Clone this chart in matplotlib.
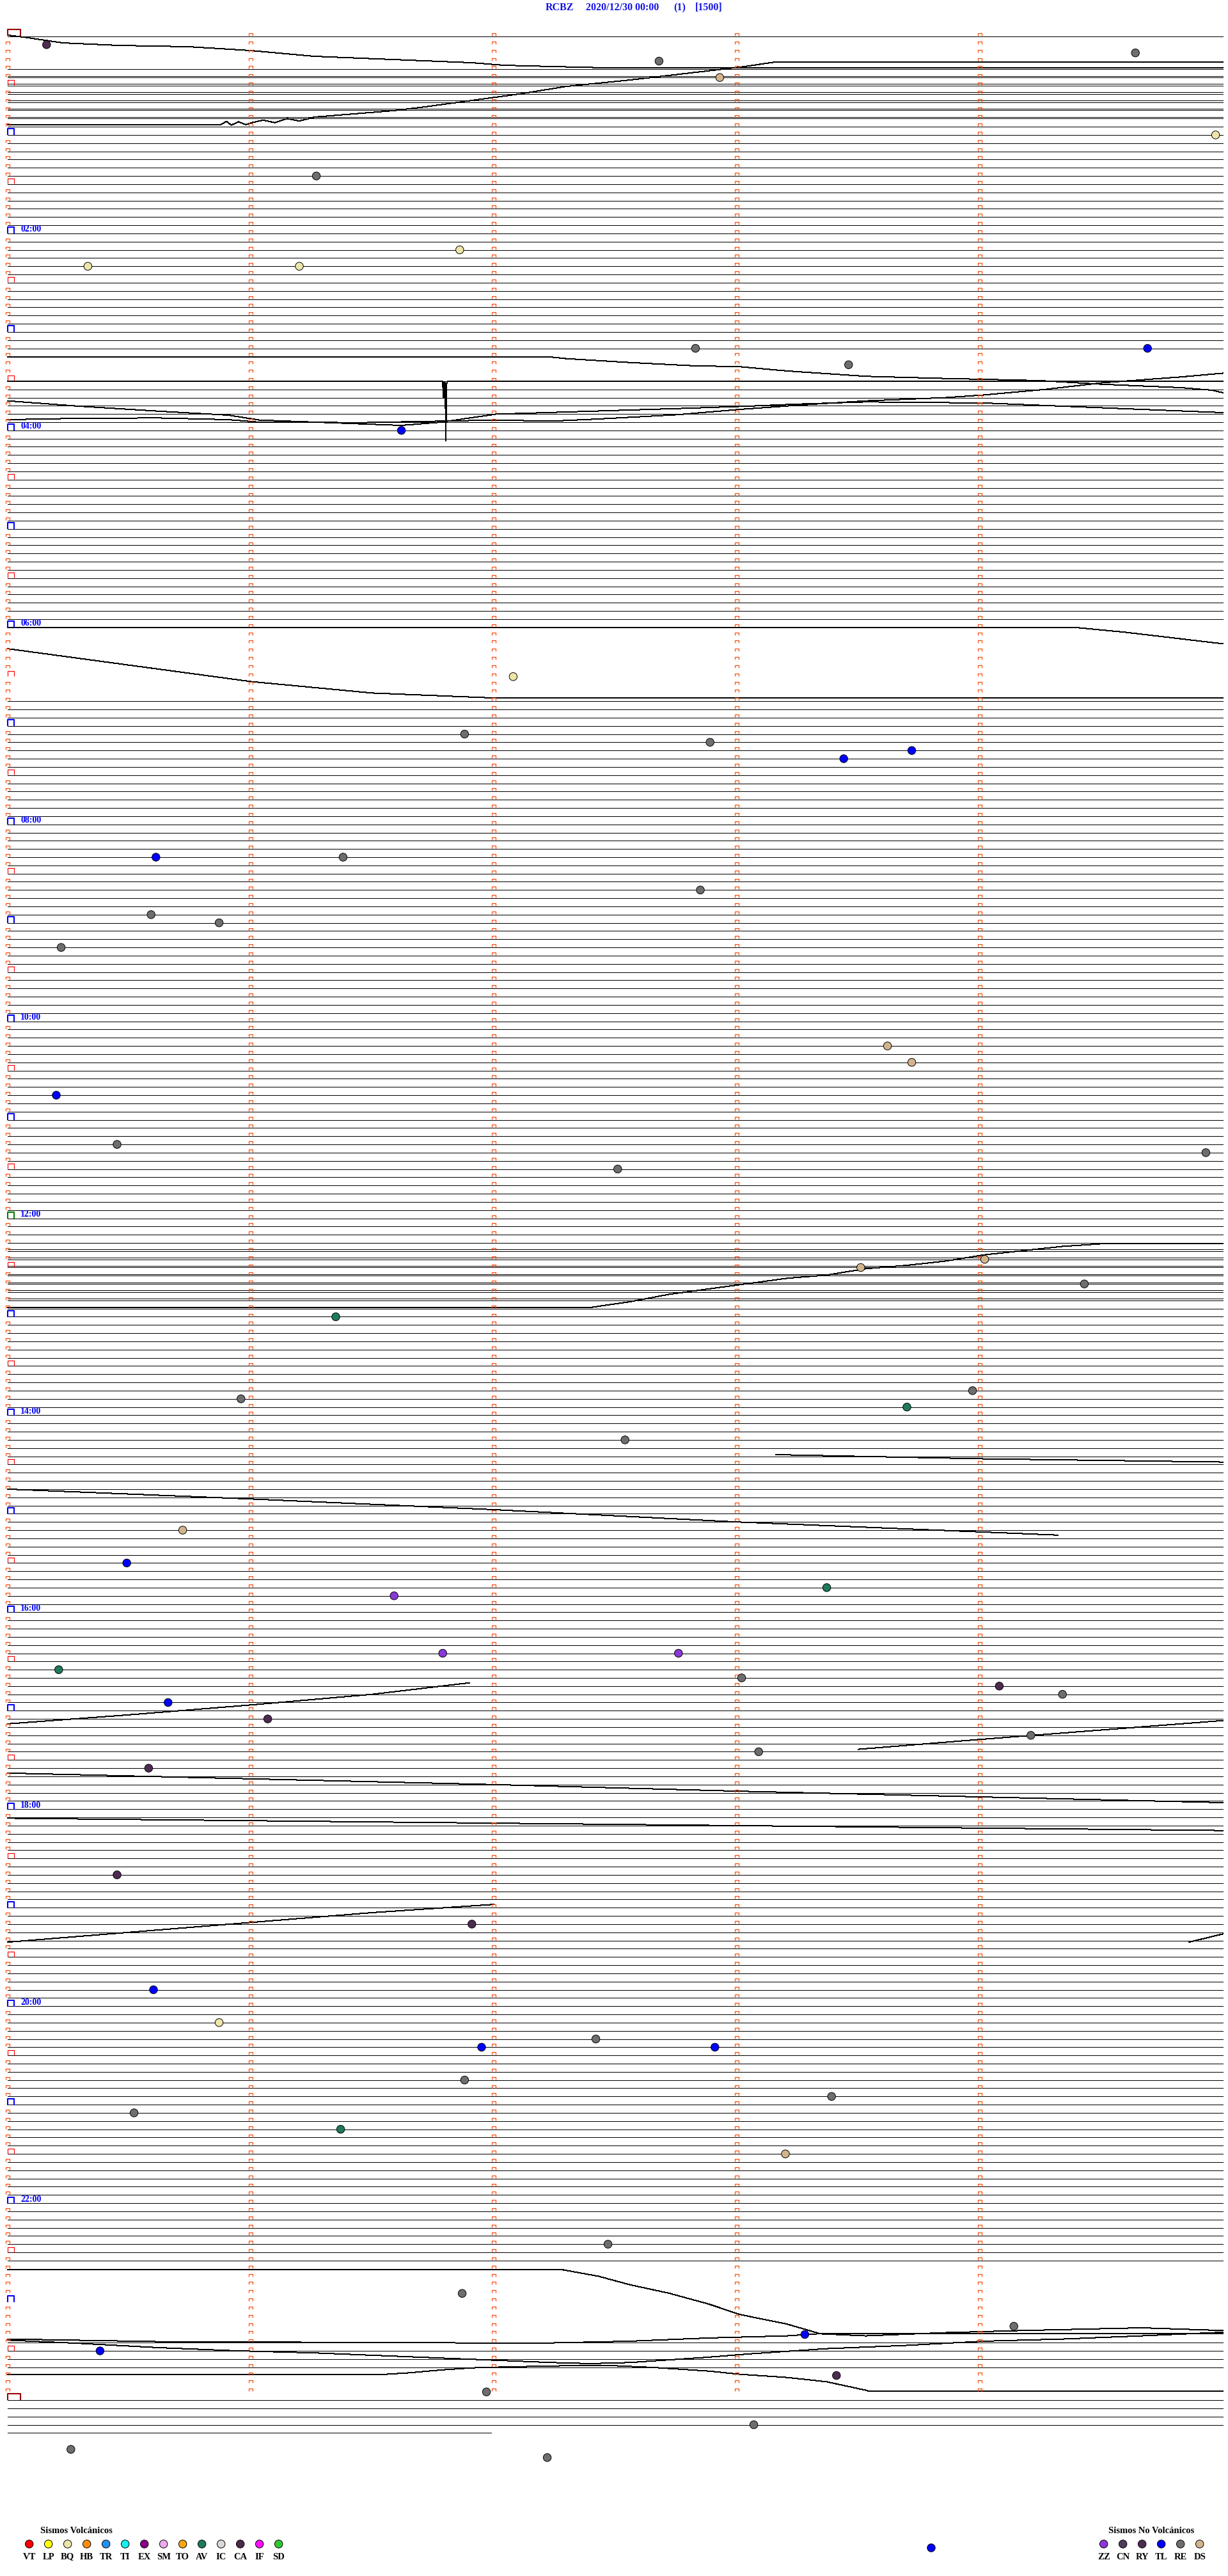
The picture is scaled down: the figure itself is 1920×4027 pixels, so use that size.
import matplotlib
matplotlib.use("Agg")
import matplotlib.pyplot as plt
from matplotlib.path import Path
import numpy as np

# ---------------- data ----------------
station = "RCBZ"
date_label = "2020/12/30 00:00"
channel_label = "(1)"
scale_label = "[1500]"

minutes_per_row = 5
n_marked_rows = 288          # 24 h of 5-minute rows
n_trace_rows = 293           # rows with data (last one partial)
last_row_end_min = 1.99      # end of data in the last row (minutes)

hour_labels = ["02:00", "04:00", "06:00", "08:00", "10:00", "12:00",
               "14:00", "16:00", "18:00", "20:00", "22:00"]

# rows whose own baseline trace is not drawn flat (drifted away)
missing_rows = [1, 2, 3, 39, 40, 41, 72, 73, 74, 75, 76, 77, 78, 79, 80,
                272, 273, 274, 275, 276, 277, 278, 279, 280, 285, 286, 287]
# rows that show a doubled trace (second copy slightly above)
double_rows = [5, 6, 7, 8, 9, 10, 148, 149, 150, 151, 152, 153, 154]
double_offset = -0.2

# drifting traces: (minutes within row, position in row units)
drift_minutes = [
    [0, 0.066, 0.226, 0.455, 0.745, 0.997, 1.263, 1.587, 1.911, 2.042, 2.237, 2.463, 5.0],
    [0, 0.876, 0.9, 0.92, 0.95, 0.98, 1.005, 1.05, 1.1, 1.15, 1.2, 1.263, 1.587, 1.718, 1.911, 2.105, 2.3, 2.561, 2.787, 3.013, 3.158, 5.0],
    [0, 2.237, 2.3, 2.561, 2.818, 3.013, 3.208, 3.532, 3.855, 4.245, 4.503, 4.826, 4.955, 5.0],
    [0, 0.292, 0.616, 0.908, 1.037, 1.458, 1.62, 1.782, 2.009, 2.786, 3.045, 3.256, 3.531, 4.017, 4.341, 4.665, 5.0],
    [0, 0.292, 0.616, 0.908, 1.037, 1.458, 1.782, 2.009, 2.236, 2.43, 2.754, 3.013, 3.256, 3.531, 3.855, 4.017, 4.276, 4.503, 4.826, 5.0],
    [0, 1.79, 1.792, 1.795, 1.797, 1.80, 1.803, 1.806, 1.81, 5.0],
    [0, 4.39, 4.6, 4.8, 5.0],
    [0, 0.5, 1.0, 1.5, 2.0, 5.0],
    [0, 2.397, 2.56, 2.722, 2.883, 3.013, 3.207, 3.369, 3.531, 3.693, 3.855, 4.017, 4.179, 4.341, 4.503, 5.0],
    [3.16, 4.0, 5.0],
    [0, 1.0, 2.0, 3.0, 4.32],
    [0, 0.5, 1.0, 1.5, 1.9],
    [3.5, 4.0, 5.0],
    [0, 1.0, 2.0, 3.0, 4.0, 5.0],
    [0, 1.0, 2.0, 3.0, 4.0, 5.0],
    [0, 0.5, 1.0, 1.5, 2.0],
    [4.86, 5.0],
    [0, 2.284, 2.43, 2.56, 2.722, 2.883, 3.013, 3.207, 3.337, 5.0],
    [0, 1.546, 1.653, 1.782, 1.912, 2.074, 2.3, 2.495, 2.657, 2.883, 3.013, 3.207, 3.369, 3.531, 3.547, 5.0],
    [0, 0.616, 1.264, 1.912, 2.236, 2.56, 2.883, 3.207, 3.337, 3.531, 3.855, 4.179, 4.665, 5.0],
    [0, 0.292, 0.616, 0.94, 1.264, 1.588, 1.912, 2.236, 2.398, 2.56, 2.883, 3.045, 3.369, 3.693, 4.017, 4.341, 4.665, 5.0],
]
drift_rows = [
    [-0.16, 0.08, 0.78, 1.09, 1.25, 1.71, 2.42, 2.81, 3.2, 3.51, 3.66, 3.82, 3.82],
    [10.76, 10.76, 10.35, 10.8, 10.4, 10.75, 10.5, 10.2, 10.5, 10.0, 10.3, 9.82, 9.04, 8.57, 7.79, 7.01, 6.08, 5.3, 4.52, 3.74, 3.12, 3.12],
    [39.07, 39.07, 39.26, 39.73, 40.12, 40.24, 40.76, 41.41, 41.67, 41.93, 42.38, 42.79, 43.1, 43.41],
    [44.40, 45.05, 45.65, 46.14, 46.74, 47.21, 47.39, 47.0, 46.02, 45.31, 45.05, 44.79, 44.53, 44.66, 45.05, 45.44, 45.83],
    [46.69, 46.53, 46.48, 46.69, 47.0, 47.05, 46.87, 46.74, 46.87, 46.61, 46.09, 45.44, 44.92, 44.4, 44.01, 43.68, 42.98, 42.2, 41.49, 41.03],
    [42.0, 42.0, 44.0, 42.1, 44.0, 42.2, 49.3, 42.3, 42.0, 42.0],
    [72.0, 72.0, 72.6, 73.3, 74.0],
    [74.6, 76.6, 78.6, 80.0, 80.6, 80.6],
    [154.87, 154.87, 154.17, 153.26, 152.61, 152.09, 151.31, 150.92, 150.14, 149.75, 149.23, 148.46, 147.94, 147.42, 147.1, 147.1],
    [172.8, 173.3, 173.7],
    [177.0, 178.2, 179.5, 181.0, 182.6],
    [205.6, 204.5, 203.3, 202.0, 200.6],
    [208.7, 207.5, 205.2],
    [211.6, 212.3, 213.0, 213.8, 214.5, 215.2],
    [217.1, 217.4, 217.7, 218.0, 218.3, 218.6],
    [232.2, 231.0, 229.8, 228.6, 227.6],
    [232.2, 231.2],
    [272.12, 272.12, 272.9, 273.94, 274.98, 276.28, 277.57, 278.74, 279.86, 279.86],
    [284.87, 284.87, 284.67, 284.33, 284.07, 283.94, 283.81, 283.81, 284.02, 284.46, 284.85, 285.24, 285.76, 286.8, 286.93, 286.93],
    [280.56, 280.87, 280.95, 281.03, 281.03, 280.82, 280.43, 280.17, 279.91, 280.17, 279.78, 279.52, 279.19, 279.52],
    [280.69, 281.08, 281.6, 281.99, 282.25, 282.64, 283.03, 283.42, 283.55, 283.42, 282.77, 282.38, 281.73, 281.34, 280.82, 280.56, 280.17, 279.73],
]

# events: time in minutes after 00:00 and class
event_time = [5.16, 17.68, 14.64, 27.93, 64.97, 86.27, 131.86, 140.33, 141.2, 192.83,
              203.46, 194.69, 241.62, 392.08, 426.88, 432.89, 443.44, 438.72, 500.61, 501.38,
              522.85, 535.59, 540.87, 555.22, 618.62, 628.72, 645.2, 675.45, 684.93, 692.51,
              753.51, 749.02, 764.43, 781.35, 830.96, 828.97, 838.7, 857.54, 910.72, 930.49,
              951.59, 948.37, 995.21, 986.79, 987.76, 1003.02, 1009.08, 1014.34, 1015.66, 1026.07,
              1039.21, 1048.09, 1055.58, 1120.45, 1151.91, 1190.6, 1210.87, 1226.95, 1222.42, 1227.91,
              1246.88, 1258.39, 1265.52, 1276.37, 1293.2, 1347.47, 1376.87, 1399.14, 1403.28, 1410.38,
              1428.41, 1436.97, 1458.07, 1470.26, 1477.22, 1533.8]
event_type = ["RY", "RE", "RE", "DS", "BQ", "RE", "BQ", "BQ", "BQ", "RE",
              "RE", "TL", "TL", "BQ", "RE", "RE", "TL", "TL", "TL", "RE",
              "RE", "RE", "RE", "RE", "DS", "DS", "TL", "RE", "RE", "RE",
              "DS", "DS", "RE", "AV", "RE", "RE", "AV", "RE", "DS", "TL",
              "ZZ", "AV", "AV", "ZZ", "ZZ", "RE", "RY", "RE", "TL", "RY",
              "RE", "RE", "RY", "RY", "RY", "TL", "BQ", "TL", "RE", "TL",
              "RE", "RE", "RE", "AV", "DS", "RE", "RE", "RE", "TL", "TL",
              "RY", "RE", "RE", "RE", "RE", "TL"]

volc_codes = ["VT", "LP", "BQ", "HB", "TR", "TI", "EX", "SM", "TO", "AV", "IC", "CA", "IF", "SD"]
volc_colors = ["#ff0000", "#ffff00", "#eee6a8", "#ff8c10", "#2090f0", "#10f0f0", "#880088",
               "#eeaaee", "#ffa510", "#1e7a5c", "#d8d8d8", "#4a2a48", "#ff10ff", "#30c830"]
nonvolc_codes = ["ZZ", "CN", "RY", "TL", "RE", "DS"]
nonvolc_colors = ["#8a38d8", "#503c5a", "#4e2c52", "#0000ff", "#6e6e6e", "#d2b48c"]

# ---------------- figure ----------------
W, H, DPI = 1920, 4027, 100
fig = plt.figure(figsize=(W / DPI, H / DPI), dpi=DPI, facecolor="white")
ax = fig.add_axes([0, 0, 1, 1])
px_per_min = 380.0
px_per_row = 12.83
x0_px, y0_px = 12.0, 57.0
ax.set_xlim(-x0_px / px_per_min, (W - x0_px) / px_per_min)
ax.set_ylim((H - y0_px) / px_per_row, -y0_px / px_per_row)
ax.axis("off")

serif = ["Liberation Serif", "DejaVu Serif"]
lw_trace = 0.72
tc = "black"
aa = False

# flat baseline traces
for r in range(n_trace_rows):
    if r in missing_rows:
        continue
    end = minutes_per_row if r < n_trace_rows - 1 else last_row_end_min
    ax.plot([0, end], [r, r], color=tc, lw=lw_trace, solid_capstyle="butt", zorder=1,
            antialiased=aa)
for r in double_rows:
    ax.plot([0, minutes_per_row], [r + double_offset] * 2, color=tc, lw=lw_trace,
            solid_capstyle="butt", zorder=1, antialiased=aa)
for mm, rr in zip(drift_minutes, drift_rows):
    ax.plot(mm, rr, color=tc, lw=lw_trace, zorder=1, antialiased=aa)

# minute tick marks
small_mark = Path([(-0.5, -0.4), (-0.5, 0.4), (0.5, 0.4), (0.5, -0.4)],
                  [Path.MOVETO, Path.LINETO, Path.LINETO, Path.LINETO])
big_mark = Path([(-0.5, -0.45), (-0.5, 0.45), (0.5, 0.45), (0.5, -0.45)],
                [Path.MOVETO, Path.LINETO, Path.LINETO, Path.LINETO])
wide_mark = Path([(-0.5, -0.26), (-0.5, 0.26), (0.5, 0.26), (0.5, -0.26)],
                 [Path.MOVETO, Path.LINETO, Path.LINETO, Path.LINETO])
mark_col = "#ff4400"
rows = np.arange(n_marked_rows)
for m in range(1, minutes_per_row):
    ax.plot(np.full(rows.size, m), rows - 0.23, ls="none", marker=small_mark, ms=4.3,
            mfc="none", mec=mark_col, mew=0.85, zorder=2)
plain = [r for r in rows if r % 6 != 0]
ax.plot(np.zeros(len(plain)), np.array(plain) - 0.23, ls="none", marker=small_mark, ms=4.3,
        mfc="none", mec=mark_col, mew=0.85, zorder=2)
half = [r for r in rows if r % 6 == 0 and r % 12 != 0]
ax.plot(np.full(len(half), 0.013), np.array(half) - 0.35, ls="none", marker=big_mark, ms=6.6,
        mfc="none", mec="#ff0000", mew=0.85, zorder=2)
hours = [r for r in rows if r % 12 == 0 and r not in (0, 144)]
ax.plot(np.full(len(hours), 0.013), np.array(hours) - 0.35, ls="none", marker=big_mark, ms=7.6,
        mfc="none", mec="#0000ff", mew=1.5, zorder=2)
ax.plot([0.013], [144 - 0.35], ls="none", marker=big_mark, ms=7.6,
        mfc="none", mec="#008000", mew=1.5, zorder=2)
ax.plot([0.026, 0.026], [0 - 0.43, n_marked_rows - 0.43], ls="none", marker=wide_mark, ms=15,
        mfc="none", mec="#990000", mew=1.5, zorder=2)

for k, lab in enumerate(hour_labels):
    ax.text(0.053, 24 * (k + 1) - 0.47, lab, color="#0000ff", fontsize=10, fontweight="bold",
            family=serif, ha="left", va="center")

# events
col_map = dict(zip(volc_codes + nonvolc_codes, volc_colors + nonvolc_colors))
et = np.array(event_time)
ev_row = np.floor(et / minutes_per_row)
ev_min = et - ev_row * minutes_per_row
ax.scatter(ev_min, ev_row, s=80, c=[col_map[t] for t in event_type], edgecolors="black",
           linewidths=0.7, zorder=4)

# title
title_y = 1 - 12 / H
for xpx, s in [(853, station), (916, date_label), (1053, channel_label), (1087, scale_label)]:
    fig.text(xpx / W, title_y, s, color="#1515e6", fontsize=11.5, fontweight="bold",
             family=serif, ha="left", va="center")

# legends
fig.text(63 / W, 1 - 3957 / H, "Sismos Volcánicos", fontsize=10.5, fontweight="bold",
         family=serif, ha="left", va="center")
fig.text(1733 / W, 1 - 3957 / H, "Sismos No Volcánicos", fontsize=10.5, fontweight="bold",
         family=serif, ha="left", va="center")
lax = fig.add_axes([0, 0, 1, 1], facecolor="none")
lax.set_xlim(0, W)
lax.set_ylim(H, 0)
lax.axis("off")
vx = 45.7 + 30.0 * np.arange(len(volc_codes))
nx = 1725.7 + 30.0 * np.arange(len(nonvolc_codes))
lax.scatter(vx, np.full(vx.size, 3977), s=80, c=volc_colors, edgecolors="black", linewidths=0.7)
lax.scatter(nx, np.full(nx.size, 3977), s=80, c=nonvolc_colors, edgecolors="black", linewidths=0.7)
for x, c in zip(vx, volc_codes):
    lax.text(x, 3997, c, fontsize=10.5, fontweight="bold", family=serif, ha="center", va="center")
for x, c in zip(nx, nonvolc_codes):
    lax.text(x, 3997, c, fontsize=10.5, fontweight="bold", family=serif, ha="center", va="center")

fig.savefig("out.png", dpi=DPI, facecolor="white")
